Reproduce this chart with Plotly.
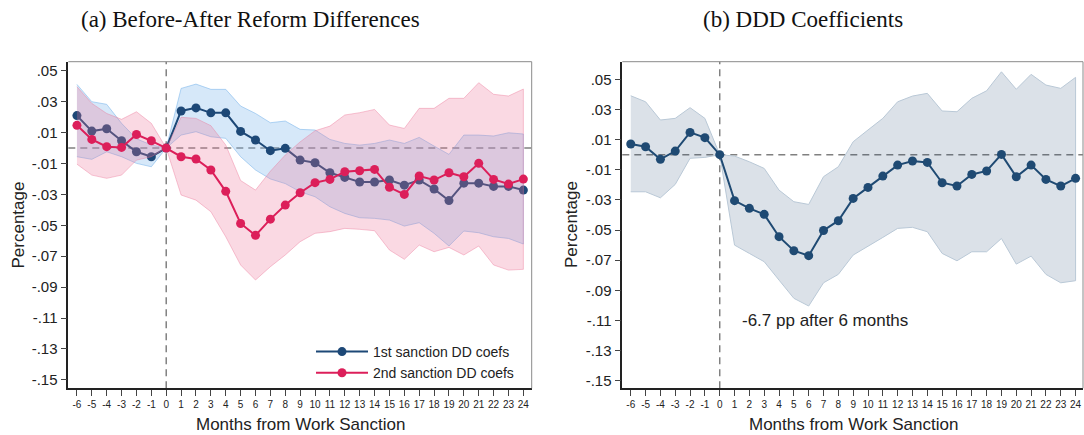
import plotly.graph_objects as go

months = list(range(-6, 25))

# Panel (a): 1st sanction DD coefficients and CI
a1_coef = [0.021, 0.011, 0.0125, 0.0047, -0.0024, -0.0056, 0.0,
           0.024, 0.026, 0.0228, 0.0228, 0.0108, 0.0052, -0.0017, -0.0002,
           -0.0078, -0.0095, -0.016, -0.019, -0.022, -0.022, -0.0207, -0.024,
           -0.0207, -0.0265, -0.034, -0.0227, -0.0227, -0.0248, -0.0248, -0.0272]
a1_hi = [0.0412, 0.030, 0.0283, 0.016, 0.006, 0.002, 0.0,
         0.0386, 0.0414, 0.038, 0.038, 0.0272, 0.0224, 0.0164, 0.0175,
         0.0121, 0.0117, 0.0056, 0.003, 0.0019, 0.003, 0.0052, 0.003,
         0.0069, 0.0013, -0.0041, 0.0084, 0.0084, 0.0078, 0.0099, 0.0091]
a1_lo = [-0.0056, -0.0073, -0.0024, -0.0056, -0.0099, -0.0121, 0.0,
         0.0084, 0.0106, 0.0073, 0.0063, -0.0056, -0.0142, -0.020, -0.023,
         -0.0283, -0.0315, -0.038, -0.0423, -0.0451, -0.0455, -0.0466, -0.0505,
         -0.0483, -0.0552, -0.0634, -0.0537, -0.0548, -0.0574, -0.0585, -0.0621]

# Panel (a): 2nd sanction DD coefficients and CI
a2_coef = [0.0147, 0.0056, 0.0009, 0.0004, 0.0088, 0.0047, 0.0,
           -0.0056, -0.0071, -0.0142, -0.028, -0.0488, -0.0565, -0.046, -0.0369,
           -0.0289, -0.0224, -0.0203, -0.0153, -0.0147, -0.0138, -0.0254, -0.030,
           -0.0181, -0.0207, -0.016, -0.0186, -0.0099, -0.0203, -0.0233, -0.0201]
a2_hi = [0.0397, 0.0289, 0.0224, 0.0186, 0.0235, 0.016, 0.0,
         0.0199, 0.0192, 0.0145, 0.002, -0.021, -0.0272, -0.015, -0.0045,
         0.004, 0.0112, 0.0142, 0.0214, 0.0229, 0.025, 0.0149, 0.0127,
         0.0257, 0.0257, 0.0322, 0.0322, 0.0423, 0.0348, 0.0337, 0.0382]
a2_lo = [-0.0104, -0.0175, -0.0196, -0.0175, -0.0078, -0.0056, 0.0,
         -0.0304, -0.0337, -0.0412, -0.0574, -0.0757, -0.0854, -0.0768, -0.0692,
         -0.0606, -0.0552, -0.0541, -0.052, -0.0526, -0.0535, -0.066, -0.072,
         -0.0628, -0.0671, -0.0643, -0.0692, -0.0634, -0.0757, -0.079, -0.0785]

# Panel (b): DDD coefficients and CI
b_coef = [0.0071, 0.0053, -0.0031, 0.0024, 0.0148, 0.0113, 0.0,
          -0.0305, -0.0356, -0.0396, -0.0544, -0.0637, -0.067, -0.0503, -0.0438,
          -0.029, -0.0217, -0.0142, -0.0069, -0.0042, -0.0051, -0.0186, -0.0208,
          -0.0131, -0.0108, 0.0002, -0.0146, -0.0069, -0.0164, -0.0208, -0.0157]
b_hi = [0.0391, 0.0351, 0.023, 0.0241, 0.0312, 0.0241, 0.0,
        -0.0009, -0.0047, -0.0091, -0.0235, -0.0312, -0.033, -0.0146, -0.008,
        0.0086, 0.0164, 0.0241, 0.0351, 0.0389, 0.0407, 0.029, 0.0285,
        0.0374, 0.0424, 0.055, 0.0434, 0.0533, 0.0462, 0.044, 0.0513]
b_lo = [-0.0246, -0.0246, -0.0286, -0.0197, -0.0024, -0.0018, 0.0,
        -0.060, -0.0655, -0.071, -0.0832, -0.0953, -0.1004, -0.085, -0.0794,
        -0.0666, -0.061, -0.0549, -0.0489, -0.0482, -0.0511, -0.0655, -0.0704,
        -0.0644, -0.0644, -0.0556, -0.0726, -0.0673, -0.0794, -0.085, -0.0836]

ytick_vals = [0.05, 0.03, 0.01, -0.01, -0.03, -0.05, -0.07, -0.09, -0.11, -0.13, -0.15]
ytick_text = [".05", ".03", ".01", "-.01", "-.03", "-.05", "-.07", "-.09", "-.11", "-.13", "-.15"]
xtick_text = [str(m) for m in months]

series_names = ["1st sanction DD coefs", "2nd sanction DD coefs"]
titles = ["(a) Before-After Reform Differences", "(b) DDD Coefficients"]
x_title = "Months from Work Sanction"
y_title = "Percentage"
note_text = "-6.7 pp after 6 months"

BLUE = "#1d4877"
PINK = "#dc1f5a"
NAVY = "#1f4a73"
SANS = "Liberation Sans, Arial, sans-serif"
SERIF = "Liberation Serif, Times New Roman, serif"

W, H = 1084, 435


def band(x, lo, hi):
    return list(x) + list(x)[::-1], list(hi) + list(lo)[::-1]


fig = go.Figure()

# Panel a
bx, by = band(months, a1_lo, a1_hi)
fig.add_trace(go.Scatter(x=bx, y=by, fill="toself", fillcolor="rgba(120,180,235,0.30)",
                         line=dict(color="rgba(120,180,235,0.55)", width=1), mode="lines",
                         hoverinfo="skip", showlegend=False, xaxis="x", yaxis="y"))
fig.add_trace(go.Scatter(x=months, y=a1_coef, mode="lines+markers", name=series_names[0],
                         line=dict(color=BLUE, width=2), marker=dict(color=BLUE, size=9),
                         xaxis="x", yaxis="y"))
bx, by = band(months, a2_lo, a2_hi)
fig.add_trace(go.Scatter(x=bx, y=by, fill="toself", fillcolor="rgba(235,115,150,0.27)",
                         line=dict(color="rgba(235,115,150,0.40)", width=1), mode="lines",
                         hoverinfo="skip", showlegend=False, xaxis="x", yaxis="y"))
fig.add_trace(go.Scatter(x=months, y=a2_coef, mode="lines+markers", name=series_names[1],
                         line=dict(color=PINK, width=2), marker=dict(color=PINK, size=9),
                         xaxis="x", yaxis="y"))

# Panel b
bx, by = band(months, b_lo, b_hi)
fig.add_trace(go.Scatter(x=bx, y=by, fill="toself", fillcolor="rgba(40,80,120,0.17)",
                         line=dict(color="#b9c8d6", width=1), mode="lines",
                         hoverinfo="skip", showlegend=False, xaxis="x2", yaxis="y2"))
fig.add_trace(go.Scatter(x=months, y=b_coef, mode="lines+markers", showlegend=False,
                         line=dict(color=NAVY, width=2), marker=dict(color=NAVY, size=9),
                         xaxis="x2", yaxis="y2"))

ydom = [1 - 388.3 / H, 1 - 61.7 / H]
xdom1 = [68.3 / W, 531.7 / W]
xdom2 = [622.3 / W, 1083.0 / W]

axis_common = dict(showgrid=False, zeroline=False, showline=True, linecolor="#222222", linewidth=1.5,
                   ticks="outside", ticklen=6, tickcolor="#444444", tickwidth=1)

fig.update_layout(
    width=W, height=H, margin=dict(l=0, r=0, t=0, b=0),
    paper_bgcolor="white", plot_bgcolor="white",
    xaxis=dict(domain=xdom1, range=[-6.58, 24.56], tickvals=months, ticktext=xtick_text,
               tickfont=dict(family=SANS, size=10, color="#222222"), anchor="y", **axis_common),
    yaxis=dict(domain=ydom, range=[-0.1555, 0.0559], tickvals=ytick_vals, ticktext=ytick_text,
               tickfont=dict(family=SANS, size=15, color="#222222"), anchor="x", **axis_common),
    xaxis2=dict(domain=xdom2, range=[-6.57, 24.5], tickvals=months, ticktext=xtick_text,
                tickfont=dict(family=SANS, size=10, color="#222222"), anchor="y2", **axis_common),
    yaxis2=dict(domain=ydom, range=[-0.155, 0.0617], tickvals=ytick_vals, ticktext=ytick_text,
                tickfont=dict(family=SANS, size=15, color="#222222"), anchor="x2", **axis_common),
    legend=dict(x=311 / W, y=1 - 336 / H, xanchor="left", yanchor="top",
                bgcolor="rgba(0,0,0,0)", font=dict(family=SANS, size=14, color="#222222"),
                itemwidth=52, tracegroupgap=0),
    showlegend=True,
)

DASH = "7px,5px"
shapes = []
for xr, yr in (("x", "y"), ("x2", "y2")):
    shapes.append(dict(type="line", xref=xr, yref=yr + " domain", x0=0, x1=0, y0=0, y1=1,
                       line=dict(color="#808080", width=1.5, dash=DASH), layer="below"))
    shapes.append(dict(type="line", xref=xr + " domain", yref=yr, x0=0, x1=1, y0=0, y1=0,
                       line=dict(color="#808080", width=1.5, dash=DASH), layer="below"))
    # top and right frame lines
    shapes.append(dict(type="line", xref=xr + " domain", yref=yr + " domain", x0=0, x1=1, y0=1, y1=1,
                       line=dict(color="#8a8a8a", width=1)))
    shapes.append(dict(type="line", xref=xr + " domain", yref=yr + " domain", x0=1, x1=1, y0=0, y1=1,
                       line=dict(color="#8a8a8a", width=1)))
fig.update_layout(shapes=shapes)

annotations = [
    dict(text=titles[0], x=250 / W, y=1 - 20 / H, xref="paper", yref="paper", showarrow=False,
         xanchor="center", yanchor="middle", font=dict(family=SERIF, size=23, color="#111111")),
    dict(text=titles[1], x=803 / W, y=1 - 20 / H, xref="paper", yref="paper", showarrow=False,
         xanchor="center", yanchor="middle", font=dict(family=SERIF, size=23, color="#111111")),
    dict(text=x_title, x=300 / W, y=1 - 424 / H, xref="paper", yref="paper", showarrow=False,
         xanchor="center", yanchor="middle", font=dict(family=SANS, size=17, color="#222222")),
    dict(text=x_title, x=853 / W, y=1 - 424 / H, xref="paper", yref="paper", showarrow=False,
         xanchor="center", yanchor="middle", font=dict(family=SANS, size=17, color="#222222")),
    dict(text=y_title, x=17.5 / W, y=1 - 225 / H, xref="paper", yref="paper", showarrow=False,
         textangle=-90, xanchor="center", yanchor="middle", font=dict(family=SANS, size=17, color="#222222")),
    dict(text=y_title, x=571 / W, y=1 - 225 / H, xref="paper", yref="paper", showarrow=False,
         textangle=-90, xanchor="center", yanchor="middle", font=dict(family=SANS, size=17, color="#222222")),
    dict(text=note_text, x=1.4, y=-0.1097, xref="x2", yref="y2", showarrow=False,
         xanchor="left", yanchor="middle", font=dict(family=SANS, size=17, color="#222222")),
]
fig.update_layout(annotations=annotations)

fig.write_html("out.html")
